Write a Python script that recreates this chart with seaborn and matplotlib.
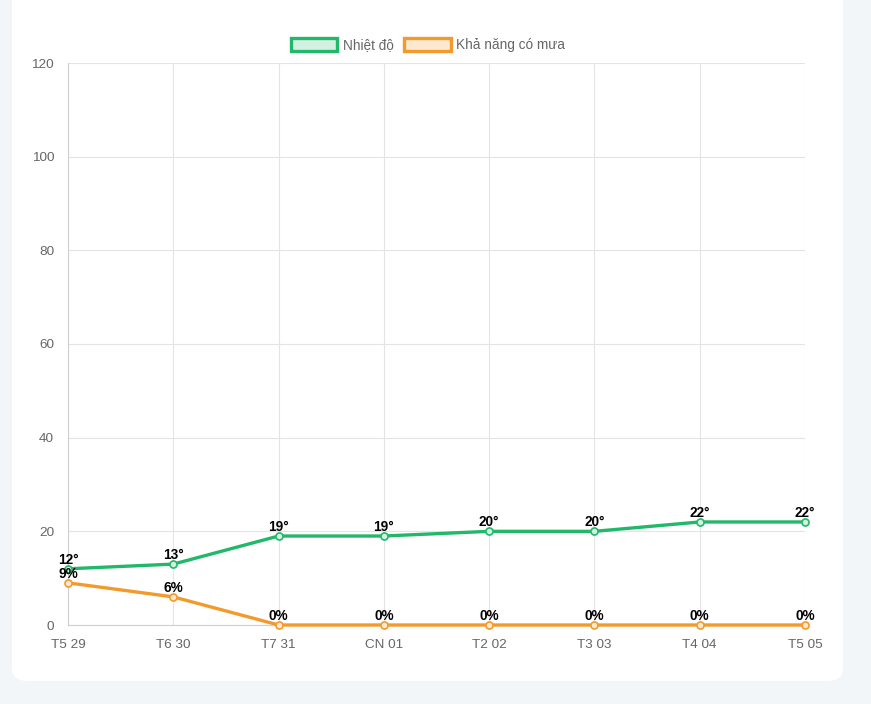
import matplotlib
matplotlib.use("Agg")
import matplotlib.pyplot as plt
from matplotlib.patches import FancyBboxPatch, Patch
import seaborn as sns
import pandas as pd

# Data
days = ["T5 29", "T6 30", "T7 31", "CN 01", "T2 02", "T3 03", "T4 04", "T5 05"]
temperature = [12, 13, 19, 19, 20, 20, 22, 22]
rain_chance = [9, 6, 0, 0, 0, 0, 0, 0]

TEMP_NAME = "Nhiệt độ"
RAIN_NAME = "Khả năng có mưa"

GREEN = "#22b86a"
ORANGE = "#f39a2c"
GRID = "#e4e4e4"
TICK = "#666666"

sns.set_style("white")
plt.rcParams["font.family"] = ["Liberation Sans", "DejaVu Sans"]

df = pd.DataFrame({
    "idx": list(range(len(days))) * 2,
    "value": temperature + rain_chance,
    "series": [TEMP_NAME] * len(days) + [RAIN_NAME] * len(days),
})

fig = plt.figure(figsize=(8.71, 7.04), dpi=100)
fig.patch.set_facecolor("#f3f6f8")

# white card behind the chart
card = FancyBboxPatch((12 / 871, 23 / 704), 831 / 871, 720 / 704,
                      boxstyle="round,pad=0,rounding_size=0.018",
                      transform=fig.transFigure, facecolor="white",
                      edgecolor="none", zorder=-5)
fig.patches.append(card)

ax = fig.add_axes([68 / 871, 1 - 625 / 704, (805 - 68) / 871, (625 - 63) / 704])
ax.set_facecolor("none")
ax.set_zorder(2)

sns.lineplot(data=df, x="idx", y="value", hue="series",
             palette={TEMP_NAME: GREEN, RAIN_NAME: ORANGE},
             sort=False, linewidth=2.4, legend=False, ax=ax, zorder=3)

# hollow-ish point markers
for vals, col, face in [(temperature, GREEN, "#d3f1e1"), (rain_chance, ORANGE, "#fde9cf")]:
    ax.scatter(range(len(days)), vals, s=26, facecolor=face, edgecolor=col,
               linewidth=1.2, zorder=4, clip_on=False)

# value labels
for i, v in enumerate(temperature):
    ax.annotate(f"{v}°", (i, v), xytext=(0, 1.5), textcoords="offset points",
                ha="center", va="bottom", fontsize=9.8, fontweight="bold",
                color="black", zorder=5)
for i, v in enumerate(rain_chance):
    ax.annotate(f"{v}%", (i, v), xytext=(0, 1.5), textcoords="offset points",
                ha="center", va="bottom", fontsize=9.8, fontweight="bold",
                color="black", zorder=5)

ax.set_xlim(0, len(days) - 1)
ax.set_ylim(0, 120)
ax.set_yticks(range(0, 121, 20))
ax.set_xticks(range(len(days)))
ax.set_xticklabels(days)
ax.set_xlabel("")
ax.set_ylabel("")
ax.grid(True, color=GRID, linewidth=0.8)
ax.set_axisbelow(True)
ax.tick_params(axis="both", colors="#d0d0d0", labelcolor=TICK, labelsize=9.7,
               length=7, width=0.8, pad=3)
for side in ["top", "right"]:
    ax.spines[side].set_visible(False)
for side in ["left", "bottom"]:
    ax.spines[side].set_color("#d0d0d0")
    ax.spines[side].set_linewidth(0.8)
for line in ax.lines:
    line.set_clip_on(False)

handles = [
    Patch(facecolor="#d3f1e1", edgecolor=GREEN, linewidth=2.4, label=TEMP_NAME),
    Patch(facecolor="#fde9cf", edgecolor=ORANGE, linewidth=2.4, label=RAIN_NAME),
]
leg = fig.legend(handles=handles, loc="center", bbox_to_anchor=(428 / 871, 1 - 45 / 704),
                 ncol=2, frameon=False, fontsize=9.8, handlelength=3.4,
                 handleheight=1.1, handletextpad=0.4, columnspacing=0.8)
for t in leg.get_texts():
    t.set_color(TICK)

fig.savefig("out.png", dpi=100, facecolor=fig.get_facecolor())
